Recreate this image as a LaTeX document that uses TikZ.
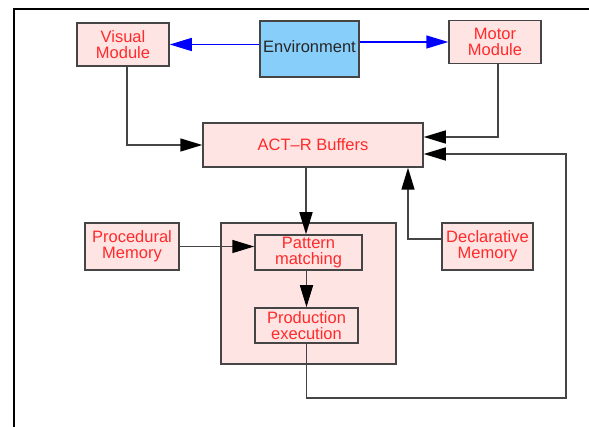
\documentclass[tikz,border=0pt]{standalone}
\usepackage{fontspec}
\setmainfont{Liberation Sans}
\usetikzlibrary{arrows.meta,calc}
\definecolor{boxfill}{HTML}{FFE4E4}
\definecolor{boxline}{HTML}{454545}
\definecolor{txtred}{HTML}{FF2A2A}
\definecolor{envfill}{HTML}{87CEFA}
\definecolor{linegray}{HTML}{454545}
\begin{document}
\begin{tikzpicture}[x=1pt,y=-1pt,
  box/.style={draw=boxline,line width=1.5pt,fill=boxfill,text=txtred,align=center,
    inner sep=0pt,font=\fontsize{16.5}{16}\selectfont},
  envbox/.style={draw=boxline,line width=1.3pt,fill=envfill,text=black!85,align=center,
    inner sep=0pt,font=\fontsize{16.5}{16}\selectfont},
  arr/.style={draw=linegray,line width=1.5pt,-{Triangle[length=22pt,width=13pt,black]}},
  barr/.style={draw=blue,line width=1.5pt,-{Triangle[length=22pt,width=13pt]}}]
\useasboundingbox (0,0) rectangle (589,427);
\draw[line width=2pt] (14,427) -- (14,9) -- (589,9);
\node[box,minimum width=92pt,minimum height=43pt] (vis) at (123,44.5) {Visual\\Module};
\node[envbox,minimum width=99pt,minimum height=56pt] (env) at (309.5,49) {\raisebox{5pt}{Environment}};
\node[box,minimum width=92pt,minimum height=43pt] (mot) at (495,42) {Motor\\Module};
\node[box,minimum width=220pt,minimum height=44pt] (act) at (313,145) {ACT--R Buffers};
\node[box,minimum width=175pt,minimum height=141pt] (big) at (308.5,293.5) {};
\node[box,minimum width=107pt,minimum height=35pt] (pat) at (308.5,252.5) {Pattern\\matching};
\node[box,minimum width=103pt,minimum height=35pt] (prod) at (306.5,325.5) {Production\\execution};
\node[box,minimum width=94pt,minimum height=47pt] (proc) at (132,246.5) {Procedural\\Memory};
\node[box,minimum width=91pt,minimum height=47pt] (decl) at (487.5,246.5) {Declarative\\Memory};
\coordinate (fb) at (566,398);
\draw[barr] (vis.east -| env.west) -- (vis.east);
\draw[barr] (mot.west -| env.east) -- (mot.west);
\draw[arr] ([xshift=4pt]vis.south) |- (act.west);
\draw[arr] ([xshift=3pt]mot.south) |- ([yshift=8pt]act.east);
\draw[arr] (prod.south) |- (fb) |- ([yshift=-9pt]act.east);
\draw[arr] ([yshift=7.5pt]decl.west) -| ([xshift=95pt]act.south);
\draw[arr] ([xshift=-7pt]act.south) -- ([xshift=-7pt]act.south |- pat.north);
\draw[arr] (prod.north |- pat.south) -- (prod.north);
\draw[arr] (proc.east) -- (pat.west |- proc.east);
\end{tikzpicture}
\end{document}
